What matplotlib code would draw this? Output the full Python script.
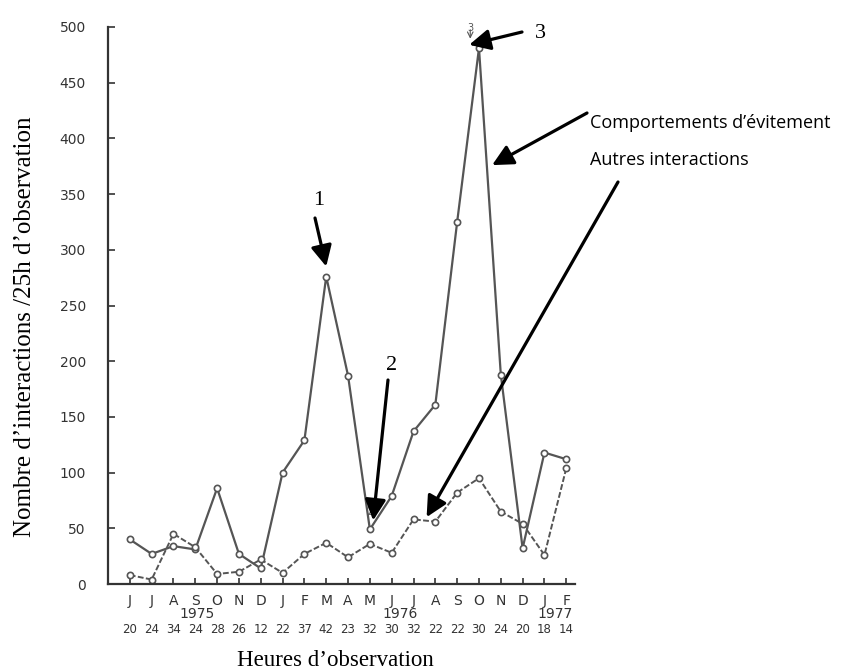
import matplotlib.pyplot as plt
import matplotlib.transforms as mtransforms

months = ["J", "J", "A", "S", "O", "N", "D", "J", "F", "M", "A", "M",
          "J", "J", "A", "S", "O", "N", "D", "J", "F"]
hours = [20, 24, 34, 24, 28, 26, 12, 22, 37, 42, 23, 32,
         30, 32, 22, 22, 30, 24, 20, 18, 14]
years = {"1975": 3.1, "1976": 12.4, "1977": 19.5}

# comportements d'evitement (trait plein)
evitement = [40, 27, 34, 31, 86, 27, 14, 100, 129, 276, 187, 49,
             79, 137, 161, 325, 481, 188, 32, 118, 112]
# autres interactions (tirets)
autres = [8, 4, 45, 33, 9, 11, 22, 10, 27, 37, 24, 36,
          28, 58, 56, 82, 95, 65, 54, 26, 104]

W, H = 843, 671


def px(x, y):
    return (x / W, 1 - y / H)


fig = plt.figure(figsize=(W / 100, H / 100), dpi=100)
ax = fig.add_axes([108 / W, 1 - 584 / H, (575 - 108) / W, (584 - 27) / H])

idx = list(range(len(months)))
grey = "#555555"
ax.plot(idx, evitement, color=grey, lw=1.6, marker="o", ms=4.5,
        mfc="white", mec=grey, mew=1.2)
ax.plot(idx, autres, color=grey, lw=1.4, ls=(0, (3, 1.2)), marker="o", ms=4.5,
        mfc="white", mec=grey, mew=1.2)

ax.set_xlim(-1.0, 20.4)
ax.set_ylim(0, 500)
for s in ["top", "right"]:
    ax.spines[s].set_visible(False)
for s in ["left", "bottom"]:
    ax.spines[s].set_color("#333333")
    ax.spines[s].set_linewidth(1.6)

ax.set_yticks(range(0, 501, 50))
ax.set_yticklabels([str(v) for v in range(0, 501, 50)], color="#333333", fontsize=10)
ax.tick_params(axis="y", direction="in", length=5, width=1.2, pad=16, color="#333333")
ax.set_xticks(idx)
ax.set_xticklabels(months, fontsize=10, color="#333333")
ax.tick_params(axis="x", direction="in", length=4, width=1.2, pad=7, color="#333333")

trans = mtransforms.blended_transform_factory(ax.transData, ax.transAxes)
for yr, pos in years.items():
    ax.text(pos, -0.0535, yr, transform=trans, ha="center", va="center",
            fontsize=10, color="#333333")
for i, h in enumerate(hours):
    ax.text(i, -0.081, str(h), transform=trans, ha="center", va="center",
            fontsize=8.5, color="#333333")

serif = "Liberation Serif"
fig.text(*px(335, 660), "Heures d\u2019observation", fontsize=16.5, family=serif,
         ha="center", va="center")
fig.text(*px(25, 327), "Nombre d\u2019interactions /25h d\u2019observation",
         fontsize=18, family=serif, rotation=90, ha="center", va="center")

# petites marques d'origine
ax.text(15.6, 495, "3", fontsize=7, color=grey, ha="center", va="bottom", clip_on=False)
ax.annotate("", xy=(15.6, 487), xytext=(15.6, 500), annotation_clip=False,
            arrowprops=dict(arrowstyle="->", color=grey, lw=0.8))
ax.text(11, 60, "2", fontsize=8, color=grey, ha="center", va="bottom")

arrow = dict(arrowstyle="-|>,head_length=0.9,head_width=0.45", color="black",
             lw=2.3, shrinkA=0, shrinkB=0, mutation_scale=14)
notes = [
    ("1", (9, 285), (319, 200), (315, 218)),
    ("2", (11.15, 57), (392, 366), (388, 380)),
    ("3", (15.55, 484), (540, 33), (522, 32)),
]
for txt, tip, tpos, start in notes:
    fig.text(*px(*tpos), txt, fontsize=16, family=serif, ha="center", va="center")
    ax.annotate("", xy=tip, xycoords="data", xytext=px(*start),
                textcoords="figure fraction", arrowprops=arrow, annotation_clip=False)

fig.text(*px(590, 123), "Comportements d\u2019\u00e9vitement", fontsize=13,
         family="Open Sans", ha="left", va="center")
ax.annotate("", xy=(16.6, 376), xytext=px(587, 113), textcoords="figure fraction",
            arrowprops=arrow, annotation_clip=False)
fig.text(*px(590, 160), "Autres interactions", fontsize=13,
         family="Open Sans", ha="left", va="center")
ax.annotate("", xy=(13.6, 60), xytext=px(618, 182), textcoords="figure fraction",
            arrowprops=arrow, annotation_clip=False)

fig.savefig("out.png", dpi=100)
